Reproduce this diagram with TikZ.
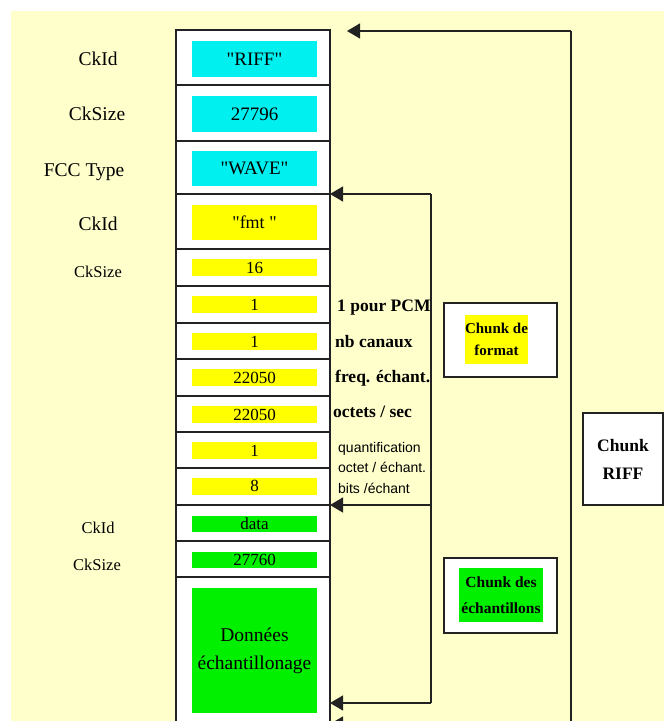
\documentclass[tikz,border=0pt]{standalone}
\usepackage{fontspec}
\setmainfont{Liberation Serif}[Ligatures=TeXOff]
\newfontfamily\sansf{Liberation Sans}
\usetikzlibrary{arrows.meta}
\definecolor{cream}{HTML}{FFFFCC}
\definecolor{cyanfill}{HTML}{00F0F0}
\definecolor{yel}{HTML}{FFFF00}
\definecolor{grn}{HTML}{00F000}
\definecolor{ink}{HTML}{222222}
\begin{document}
\begin{tikzpicture}[x=1pt,y=-1pt,
  cell/.style={draw=ink, line width=1.3pt, fill=white, minimum width=154pt, anchor=north west, inner sep=0pt, outer sep=0pt},
  val/.style={minimum width=125pt, inner sep=0pt, font=\fontsize{17}{17}\selectfont},
  lab/.style={anchor=base, inner sep=0pt, font=\fontsize{19.5}{19.5}\selectfont},
  slab/.style={anchor=base, inner sep=0pt, font=\fontsize{16.5}{16.5}\selectfont},
  note/.style={anchor=base west, inner sep=0pt, font=\fontsize{17.5}{17.5}\selectfont\bfseries},
  snote/.style={anchor=base west, inner sep=0pt, font=\sansf\fontsize{14}{14}\selectfont},
  conn/.style={draw=ink, line width=1.3pt},
  arr/.style={-{Triangle[length=13pt,width=15pt]}},
  chunkbox/.style={draw=ink, line width=1.3pt, fill=white, inner sep=0pt},
]
\useasboundingbox (0,0) rectangle (664,721);
\clip (0,0) rectangle (664,721);
\fill[white] (0,0) rectangle (664,721);
\fill[cream] (11,11) rectangle (664,721);

% column cells
\node[cell, minimum height=55pt] (r1) at (176,30) {};
\node[cell, minimum height=56pt] (r2) at (176,85) {};
\node[cell, minimum height=53pt] (r3) at (176,141) {};
\node[cell, minimum height=55pt] (r4) at (176,194) {};
\node[cell, minimum height=37pt] (r5) at (176,249) {};
\node[cell, minimum height=37pt] (r6) at (176,286) {};
\node[cell, minimum height=36pt] (r7) at (176,323) {};
\node[cell, minimum height=37pt] (r8) at (176,359) {};
\node[cell, minimum height=36pt] (r9) at (176,396) {};
\node[cell, minimum height=36pt] (r10) at (176,432) {};
\node[cell, minimum height=37pt] (r11) at (176,468) {};
\node[cell, minimum height=36pt] (r12) at (176,505) {};
\node[cell, minimum height=36pt] (r13) at (176,541) {};
\node[cell, minimum height=150pt] (r14) at (176,577) {};

% values
\node[val, fill=cyanfill, minimum height=36pt, font=\fontsize{19}{19}\selectfont] (v1) at (254.5,59) {"RIFF"};
\node[val, fill=cyanfill, minimum height=36pt, font=\fontsize{19}{19}\selectfont] (v2) at (254.5,114) {27796};
\node[val, fill=cyanfill, minimum height=35pt, font=\fontsize{19}{19}\selectfont] (v3) at (254.5,168.5) {"WAVE"};
\node[val, fill=yel, minimum height=35pt, font=\fontsize{18}{18}\selectfont] (v4) at (254.5,222.5) {"fmt "};
\node[val, fill=yel, minimum height=17pt] (v5) at (254.5,267.5) {16};
\node[val, fill=yel, minimum height=17pt] (v6) at (254.5,304.5) {1};
\node[val, fill=yel, minimum height=17pt] (v7) at (254.5,341.5) {1};
\node[val, fill=yel, minimum height=17pt] (v8) at (254.5,377.5) {22050};
\node[val, fill=yel, minimum height=17pt] (v9) at (254.5,414.5) {22050};
\node[val, fill=yel, minimum height=17pt] (v10) at (254.5,450.5) {1};
\node[val, fill=yel, minimum height=17pt] (v11) at (254.5,486) {8};
\node[val, fill=grn, minimum height=16pt] (v12) at (254.5,524) {data};
\node[val, fill=grn, minimum height=16pt] (v13) at (254.5,560) {27760};
\node[val, fill=grn, minimum height=125pt, align=center, font=\fontsize{19.5}{28}\selectfont] (v14) at (254.5,650.5) {Données\\échantillonage};

% left labels
\node[lab] (l1) at (98,65) {CkId};
\node[lab] (l2) at (97,120) {CkSize};
\node[lab] (l3) at (84,176) {FCC Type};
\node[lab] (l4) at (98,230) {CkId};
\node[slab] (l5) at (98,277) {CkSize};
\node[slab] (l6) at (98,533) {CkId};
\node[slab] (l7) at (97,570) {CkSize};

% right notes
\node[note] (n1) at (337,311) {1 pour PCM};
\node[note] (n2) at (335,347) {nb canaux};
\node[note] (n3) at (335,382) {freq. échant.};
\node[note] (n4) at (333,417) {octets / sec};
\node[snote] (n5) at (338,452) {quantification};
\node[snote] (n6) at (338,472) {octet / échant.};
\node[snote] (n7) at (338,493) {bits /échant};

% chunk boxes
\node[chunkbox, minimum width=113pt, minimum height=74pt] (cf) at (500.5,340) {};
\node[fill=yel, inner sep=0pt, minimum width=57pt, minimum height=49pt, align=center, font=\fontsize{15}{22}\selectfont\bfseries] (cft) at (496.5,339.5) {Chunk de\\format};
\node[chunkbox, minimum width=113pt, minimum height=75pt] (ce) at (500.5,595.5) {};
\node[fill=grn, inner sep=0pt, minimum width=84pt, minimum height=54pt, align=center, font=\fontsize{15.5}{26}\selectfont\bfseries] (cet) at (501,595) {Chunk des\\échantillons};
\node[chunkbox, minimum width=80pt, minimum height=92pt, align=center, font=\fontsize{17.5}{28}\selectfont\bfseries] (cr) at (623,459) {Chunk\\RIFF};

% connectors
\coordinate (fT) at (431,194);
\coordinate (fM) at (431,505);
\coordinate (fB) at (431,703);
\coordinate (rT) at (571,31);
\coordinate (rB) at (571,724);
\coordinate (rTip) at (347,31);
\draw[conn] (fT) -- (fB);
\draw[conn, arr] (fT) -- (r4.north east);
\draw[conn, arr] (fM) -- (r12.north east);
\draw[conn, arr] (fB) -- (r14.east |- fB);
\draw[conn] (rT) -- (rB);
\draw[conn, arr] (rT) -- (rTip);
\draw[conn, arr] (rB) -- (r14.east |- rB);
\end{tikzpicture}
\end{document}
